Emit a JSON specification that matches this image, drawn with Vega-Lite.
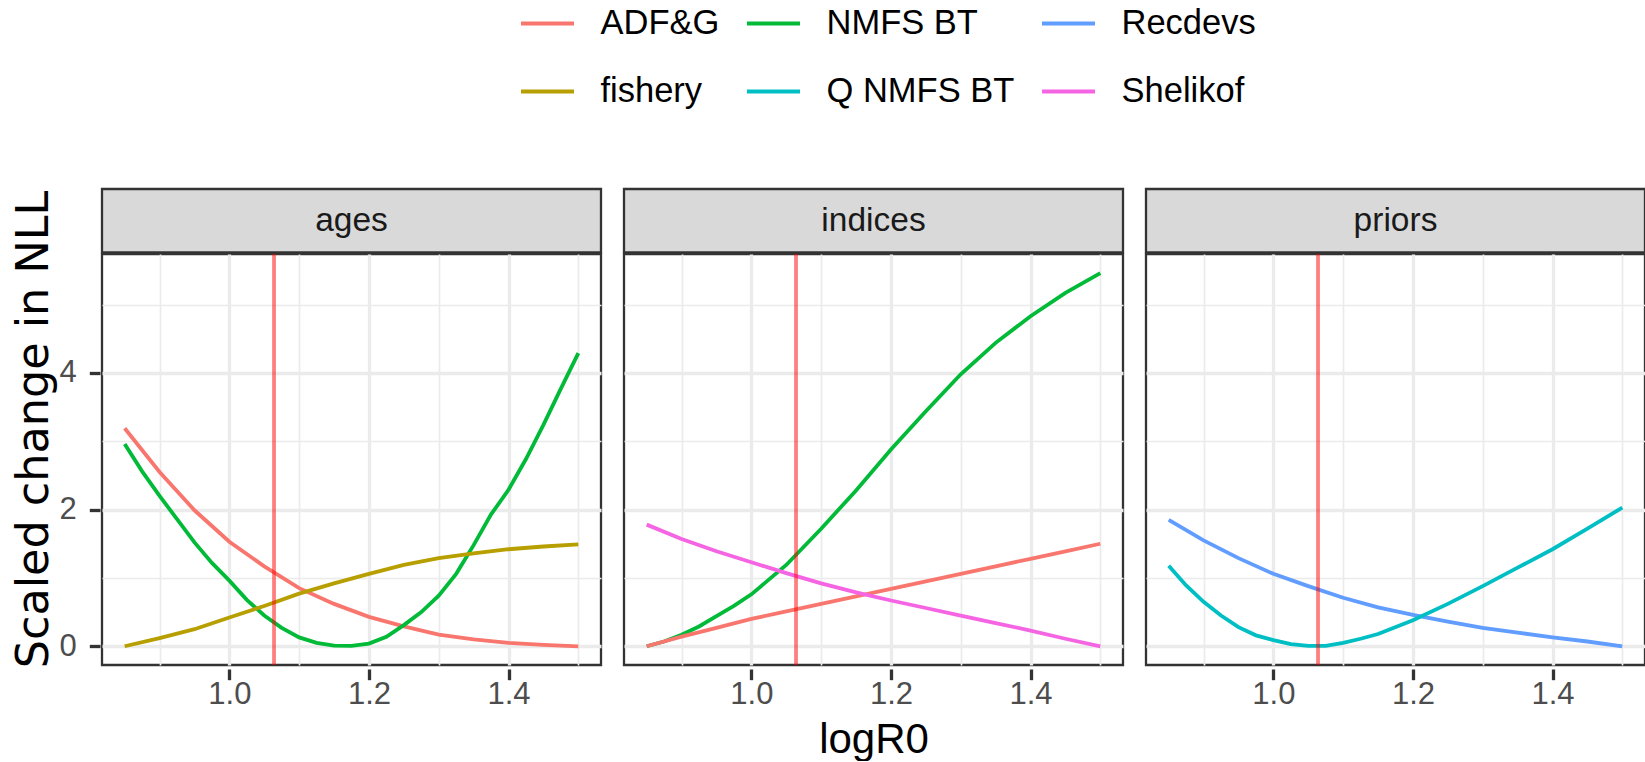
{
  "$schema": "https://vega.github.io/schema/vega-lite/v6.json",
  "background": "white",
  "padding": {"left": 10, "top": -5, "right": 0, "bottom": 0},
  "config": {
    "font": "Liberation Sans",
    "view": {"stroke": null}
  },
  "datasets": {
    "strips": [{"panel": "ages"}, {"panel": "indices"}, {"panel": "priors"}],
    "curves": [
      {"panel": "ages", "series": "ADF&G", "logR0": 0.85, "nll": 3.19},
      {"panel": "ages", "series": "ADF&G", "logR0": 0.9, "nll": 2.55},
      {"panel": "ages", "series": "ADF&G", "logR0": 0.95, "nll": 1.99},
      {"panel": "ages", "series": "ADF&G", "logR0": 1.0, "nll": 1.53},
      {"panel": "ages", "series": "ADF&G", "logR0": 1.05, "nll": 1.17},
      {"panel": "ages", "series": "ADF&G", "logR0": 1.1, "nll": 0.85},
      {"panel": "ages", "series": "ADF&G", "logR0": 1.15, "nll": 0.62},
      {"panel": "ages", "series": "ADF&G", "logR0": 1.2, "nll": 0.43},
      {"panel": "ages", "series": "ADF&G", "logR0": 1.25, "nll": 0.29},
      {"panel": "ages", "series": "ADF&G", "logR0": 1.3, "nll": 0.17},
      {"panel": "ages", "series": "ADF&G", "logR0": 1.35, "nll": 0.1},
      {"panel": "ages", "series": "ADF&G", "logR0": 1.4, "nll": 0.05},
      {"panel": "ages", "series": "ADF&G", "logR0": 1.45, "nll": 0.02},
      {"panel": "ages", "series": "ADF&G", "logR0": 1.5, "nll": 0.0},
      {"panel": "ages", "series": "NMFS BT", "logR0": 0.85, "nll": 2.96},
      {"panel": "ages", "series": "NMFS BT", "logR0": 0.875, "nll": 2.56},
      {"panel": "ages", "series": "NMFS BT", "logR0": 0.9, "nll": 2.2},
      {"panel": "ages", "series": "NMFS BT", "logR0": 0.925, "nll": 1.86},
      {"panel": "ages", "series": "NMFS BT", "logR0": 0.95, "nll": 1.52},
      {"panel": "ages", "series": "NMFS BT", "logR0": 0.975, "nll": 1.22},
      {"panel": "ages", "series": "NMFS BT", "logR0": 1.0, "nll": 0.96},
      {"panel": "ages", "series": "NMFS BT", "logR0": 1.025, "nll": 0.68},
      {"panel": "ages", "series": "NMFS BT", "logR0": 1.05, "nll": 0.45},
      {"panel": "ages", "series": "NMFS BT", "logR0": 1.075, "nll": 0.27},
      {"panel": "ages", "series": "NMFS BT", "logR0": 1.1, "nll": 0.13},
      {"panel": "ages", "series": "NMFS BT", "logR0": 1.125, "nll": 0.05},
      {"panel": "ages", "series": "NMFS BT", "logR0": 1.15, "nll": 0.01},
      {"panel": "ages", "series": "NMFS BT", "logR0": 1.175, "nll": 0.005},
      {"panel": "ages", "series": "NMFS BT", "logR0": 1.2, "nll": 0.04},
      {"panel": "ages", "series": "NMFS BT", "logR0": 1.225, "nll": 0.14},
      {"panel": "ages", "series": "NMFS BT", "logR0": 1.25, "nll": 0.31},
      {"panel": "ages", "series": "NMFS BT", "logR0": 1.275, "nll": 0.5},
      {"panel": "ages", "series": "NMFS BT", "logR0": 1.3, "nll": 0.74},
      {"panel": "ages", "series": "NMFS BT", "logR0": 1.325, "nll": 1.06},
      {"panel": "ages", "series": "NMFS BT", "logR0": 1.35, "nll": 1.48},
      {"panel": "ages", "series": "NMFS BT", "logR0": 1.375, "nll": 1.93},
      {"panel": "ages", "series": "NMFS BT", "logR0": 1.4, "nll": 2.29},
      {"panel": "ages", "series": "NMFS BT", "logR0": 1.425, "nll": 2.74},
      {"panel": "ages", "series": "NMFS BT", "logR0": 1.45, "nll": 3.24},
      {"panel": "ages", "series": "NMFS BT", "logR0": 1.475, "nll": 3.77},
      {"panel": "ages", "series": "NMFS BT", "logR0": 1.5, "nll": 4.29},
      {"panel": "ages", "series": "fishery", "logR0": 0.85, "nll": 0.0},
      {"panel": "ages", "series": "fishery", "logR0": 0.9, "nll": 0.12},
      {"panel": "ages", "series": "fishery", "logR0": 0.95, "nll": 0.25},
      {"panel": "ages", "series": "fishery", "logR0": 1.0, "nll": 0.42},
      {"panel": "ages", "series": "fishery", "logR0": 1.05, "nll": 0.59},
      {"panel": "ages", "series": "fishery", "logR0": 1.1, "nll": 0.77},
      {"panel": "ages", "series": "fishery", "logR0": 1.15, "nll": 0.92},
      {"panel": "ages", "series": "fishery", "logR0": 1.2, "nll": 1.06},
      {"panel": "ages", "series": "fishery", "logR0": 1.25, "nll": 1.19},
      {"panel": "ages", "series": "fishery", "logR0": 1.3, "nll": 1.29},
      {"panel": "ages", "series": "fishery", "logR0": 1.35, "nll": 1.36},
      {"panel": "ages", "series": "fishery", "logR0": 1.4, "nll": 1.42},
      {"panel": "ages", "series": "fishery", "logR0": 1.45, "nll": 1.46},
      {"panel": "ages", "series": "fishery", "logR0": 1.5, "nll": 1.49},
      {"panel": "indices", "series": "NMFS BT", "logR0": 0.85, "nll": 0.0},
      {"panel": "indices", "series": "NMFS BT", "logR0": 0.875, "nll": 0.07},
      {"panel": "indices", "series": "NMFS BT", "logR0": 0.9, "nll": 0.17},
      {"panel": "indices", "series": "NMFS BT", "logR0": 0.925, "nll": 0.29},
      {"panel": "indices", "series": "NMFS BT", "logR0": 0.95, "nll": 0.44},
      {"panel": "indices", "series": "NMFS BT", "logR0": 0.975, "nll": 0.59},
      {"panel": "indices", "series": "NMFS BT", "logR0": 1.0, "nll": 0.76},
      {"panel": "indices", "series": "NMFS BT", "logR0": 1.05, "nll": 1.19},
      {"panel": "indices", "series": "NMFS BT", "logR0": 1.1, "nll": 1.72},
      {"panel": "indices", "series": "NMFS BT", "logR0": 1.15, "nll": 2.28},
      {"panel": "indices", "series": "NMFS BT", "logR0": 1.2, "nll": 2.88},
      {"panel": "indices", "series": "NMFS BT", "logR0": 1.25, "nll": 3.44},
      {"panel": "indices", "series": "NMFS BT", "logR0": 1.3, "nll": 3.98},
      {"panel": "indices", "series": "NMFS BT", "logR0": 1.35, "nll": 4.44},
      {"panel": "indices", "series": "NMFS BT", "logR0": 1.4, "nll": 4.83},
      {"panel": "indices", "series": "NMFS BT", "logR0": 1.45, "nll": 5.17},
      {"panel": "indices", "series": "NMFS BT", "logR0": 1.5, "nll": 5.46},
      {"panel": "indices", "series": "ADF&G", "logR0": 0.85, "nll": 0.0},
      {"panel": "indices", "series": "ADF&G", "logR0": 0.9, "nll": 0.14},
      {"panel": "indices", "series": "ADF&G", "logR0": 0.95, "nll": 0.27},
      {"panel": "indices", "series": "ADF&G", "logR0": 1.0, "nll": 0.4},
      {"panel": "indices", "series": "ADF&G", "logR0": 1.05, "nll": 0.51},
      {"panel": "indices", "series": "ADF&G", "logR0": 1.1, "nll": 0.62},
      {"panel": "indices", "series": "ADF&G", "logR0": 1.15, "nll": 0.73},
      {"panel": "indices", "series": "ADF&G", "logR0": 1.2, "nll": 0.84},
      {"panel": "indices", "series": "ADF&G", "logR0": 1.25, "nll": 0.95},
      {"panel": "indices", "series": "ADF&G", "logR0": 1.3, "nll": 1.06},
      {"panel": "indices", "series": "ADF&G", "logR0": 1.35, "nll": 1.17},
      {"panel": "indices", "series": "ADF&G", "logR0": 1.4, "nll": 1.28},
      {"panel": "indices", "series": "ADF&G", "logR0": 1.45, "nll": 1.39},
      {"panel": "indices", "series": "ADF&G", "logR0": 1.5, "nll": 1.5},
      {"panel": "indices", "series": "Shelikof", "logR0": 0.85, "nll": 1.78},
      {"panel": "indices", "series": "Shelikof", "logR0": 0.9, "nll": 1.57},
      {"panel": "indices", "series": "Shelikof", "logR0": 0.95, "nll": 1.39},
      {"panel": "indices", "series": "Shelikof", "logR0": 1.0, "nll": 1.23},
      {"panel": "indices", "series": "Shelikof", "logR0": 1.05, "nll": 1.07},
      {"panel": "indices", "series": "Shelikof", "logR0": 1.1, "nll": 0.92},
      {"panel": "indices", "series": "Shelikof", "logR0": 1.15, "nll": 0.79},
      {"panel": "indices", "series": "Shelikof", "logR0": 1.2, "nll": 0.67},
      {"panel": "indices", "series": "Shelikof", "logR0": 1.25, "nll": 0.56},
      {"panel": "indices", "series": "Shelikof", "logR0": 1.3, "nll": 0.45},
      {"panel": "indices", "series": "Shelikof", "logR0": 1.35, "nll": 0.34},
      {"panel": "indices", "series": "Shelikof", "logR0": 1.4, "nll": 0.23},
      {"panel": "indices", "series": "Shelikof", "logR0": 1.45, "nll": 0.11},
      {"panel": "indices", "series": "Shelikof", "logR0": 1.5, "nll": 0.0},
      {"panel": "priors", "series": "Recdevs", "logR0": 0.85, "nll": 1.85},
      {"panel": "priors", "series": "Recdevs", "logR0": 0.9, "nll": 1.55},
      {"panel": "priors", "series": "Recdevs", "logR0": 0.95, "nll": 1.29},
      {"panel": "priors", "series": "Recdevs", "logR0": 1.0, "nll": 1.06},
      {"panel": "priors", "series": "Recdevs", "logR0": 1.05, "nll": 0.88},
      {"panel": "priors", "series": "Recdevs", "logR0": 1.1, "nll": 0.71},
      {"panel": "priors", "series": "Recdevs", "logR0": 1.15, "nll": 0.57},
      {"panel": "priors", "series": "Recdevs", "logR0": 1.2, "nll": 0.46},
      {"panel": "priors", "series": "Recdevs", "logR0": 1.25, "nll": 0.36},
      {"panel": "priors", "series": "Recdevs", "logR0": 1.3, "nll": 0.27},
      {"panel": "priors", "series": "Recdevs", "logR0": 1.35, "nll": 0.2},
      {"panel": "priors", "series": "Recdevs", "logR0": 1.4, "nll": 0.13},
      {"panel": "priors", "series": "Recdevs", "logR0": 1.45, "nll": 0.07},
      {"panel": "priors", "series": "Recdevs", "logR0": 1.5, "nll": 0.0},
      {"panel": "priors", "series": "Q NMFS BT", "logR0": 0.85, "nll": 1.18},
      {"panel": "priors", "series": "Q NMFS BT", "logR0": 0.875, "nll": 0.89},
      {"panel": "priors", "series": "Q NMFS BT", "logR0": 0.9, "nll": 0.65},
      {"panel": "priors", "series": "Q NMFS BT", "logR0": 0.925, "nll": 0.45},
      {"panel": "priors", "series": "Q NMFS BT", "logR0": 0.95, "nll": 0.28},
      {"panel": "priors", "series": "Q NMFS BT", "logR0": 0.975, "nll": 0.16},
      {"panel": "priors", "series": "Q NMFS BT", "logR0": 1.0, "nll": 0.09},
      {"panel": "priors", "series": "Q NMFS BT", "logR0": 1.025, "nll": 0.03},
      {"panel": "priors", "series": "Q NMFS BT", "logR0": 1.05, "nll": 0.005},
      {"panel": "priors", "series": "Q NMFS BT", "logR0": 1.075, "nll": 0.005},
      {"panel": "priors", "series": "Q NMFS BT", "logR0": 1.1, "nll": 0.05},
      {"panel": "priors", "series": "Q NMFS BT", "logR0": 1.125, "nll": 0.11},
      {"panel": "priors", "series": "Q NMFS BT", "logR0": 1.15, "nll": 0.18},
      {"panel": "priors", "series": "Q NMFS BT", "logR0": 1.2, "nll": 0.38},
      {"panel": "priors", "series": "Q NMFS BT", "logR0": 1.25, "nll": 0.62},
      {"panel": "priors", "series": "Q NMFS BT", "logR0": 1.3, "nll": 0.88},
      {"panel": "priors", "series": "Q NMFS BT", "logR0": 1.35, "nll": 1.15},
      {"panel": "priors", "series": "Q NMFS BT", "logR0": 1.4, "nll": 1.42},
      {"panel": "priors", "series": "Q NMFS BT", "logR0": 1.45, "nll": 1.72},
      {"panel": "priors", "series": "Q NMFS BT", "logR0": 1.5, "nll": 2.03},
      {"panel": "ages", "mle": 1.064},
      {"panel": "indices", "mle": 1.064},
      {"panel": "priors", "mle": 1.064}
    ]
  },
  "spacing": -72,
  "vconcat": [
    {
      "data": {"name": "strips"},
      "facet": {"column": {"field": "panel", "type": "nominal", "header": {"labels": false, "title": null}}},
      "spacing": {"column": 19},
      "spec": {
        "width": 499,
        "height": 63.4,
        "view": {"fill": "#D9D9D9", "stroke": "#333333", "strokeWidth": 2.3},
        "mark": {"type": "text", "fontSize": 33.5, "color": "#1A1A1A", "baseline": "middle", "align": "center"},
        "encoding": {"text": {"field": "panel", "type": "nominal"}}
      }
    },
    {
      "data": {"name": "curves"},
      "facet": {"column": {"field": "panel", "type": "nominal", "header": {"labels": false, "title": "logR0", "titleOrient": "bottom", "titleFontSize": 42, "titleFontWeight": "normal", "titleColor": "black", "titlePadding": 0}}},
      "spacing": {"column": 19},
      "spec": {
        "width": 499,
        "height": 411,
        "view": {"fill": "white", "stroke": "#333333", "strokeWidth": 2.3},
        "layer": [
          {
            "transform": [{"filter": "isValid(datum.nll)"}],
            "mark": {"type": "line", "strokeWidth": 3.8},
            "encoding": {
              "x": {
                "field": "logR0", "type": "quantitative",
                "scale": {"domain": [0.8175, 1.5325], "nice": false, "zero": false},
                "axis": {
                  "title": null,
                  "values": [0.9, 1.0, 1.1, 1.2, 1.3, 1.4, 1.5],
                  "format": ".1f",
                  "labelExpr": "round(datum.value*10) % 2 == 0 ? datum.label : ''",
                  "domain": false,
                  "grid": true,
                  "gridColor": "#EBEBEB",
                  "gridWidth": {"condition": {"test": "round(datum.value*10) % 2 == 0", "value": 3.3}, "value": 1.7},
                  "tickOpacity": {"condition": {"test": "round(datum.value*10) % 2 == 0", "value": 1}, "value": 0},
                  "tickColor": "#333333",
                  "tickWidth": 3.3,
                  "tickSize": 10.7,
                  "labelFontSize": 31,
                  "labelColor": "#4D4D4D",
                  "labelPadding": 0
                }
              },
              "y": {
                "field": "nll", "type": "quantitative",
                "scale": {"domain": [-0.274, 5.74], "nice": false, "zero": false},
                "axis": {
                  "title": "Scaled change in NLL",
                  "values": [0, 1, 2, 3, 4, 5],
                  "labelExpr": "datum.value % 2 == 0 ? datum.label : ''",
                  "domain": false,
                  "grid": true,
                  "gridColor": "#EBEBEB",
                  "gridWidth": {"condition": {"test": "datum.value % 2 == 0", "value": 3.3}, "value": 1.7},
                  "tickOpacity": {"condition": {"test": "datum.value % 2 == 0", "value": 1}, "value": 0},
                  "tickColor": "#333333",
                  "tickWidth": 3.3,
                  "tickSize": 10.7,
                  "labelFontSize": 31,
                  "labelColor": "#4D4D4D",
                  "labelPadding": 13,
                  "titleFont": "DejaVu Sans",
                  "titleFontSize": 44.5,
                  "titleFontWeight": "normal",
                  "titleColor": "black",
                  "titleAngle": 270,
                  "titleAlign": "center",
                  "titleBaseline": "alphabetic",
                  "titleX": -53,
                  "titleY": 175
                }
              },
              "color": {
                "field": "series", "type": "nominal",
                "scale": {
                  "domain": ["ADF&G", "NMFS BT", "Recdevs", "fishery", "Q NMFS BT", "Shelikof"],
                  "range": ["#F8766D", "#00BA38", "#619CFF", "#B79F00", "#00BFC4", "#F564E3"]
                },
                "legend": {
                  "title": null,
                  "orient": "none",
                  "legendX": 417,
                  "legendY": -194,
                  "columns": 3,
                  "direction": "horizontal",
                  "symbolType": "stroke",
                  "symbolSize": 2809,
                  "symbolStrokeWidth": 4,
                  "labelFontSize": 34.5,
                  "labelColor": "black",
                  "labelOffset": 24.5,
                  "labelLimit": 400,
                  "columnPadding": 19,
                  "rowPadding": 23,
                  "padding": 0
                }
              }
            }
          },
          {
            "transform": [{"filter": "isValid(datum.mle)"}],
            "mark": {"type": "rule", "color": "red", "opacity": 0.5, "strokeWidth": 3.8},
            "encoding": {
              "x": {"field": "mle", "type": "quantitative"}
            }
          }
        ]
      }
    }
  ]
}
